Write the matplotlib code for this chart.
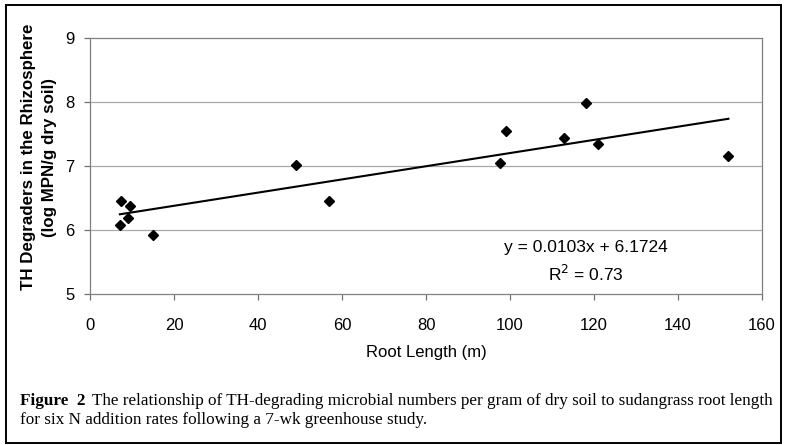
#!/usr/bin/env python3
"""TH degraders in the rhizosphere vs sudangrass root length (Figure 2)."""
import matplotlib
matplotlib.use("Agg")
import matplotlib.pyplot as plt
from matplotlib.patches import Rectangle

# data
root_length = [7.1, 7.4, 9.1, 9.4, 15.0, 49.0, 56.9, 97.6, 99.0, 112.9, 118.0, 121.0, 152.0]
th_degraders = [6.08, 6.46, 6.19, 6.37, 5.92, 7.01, 6.46, 7.05, 7.55, 7.44, 7.99, 7.35, 7.15]

# trend line as printed on the chart
slope, intercept, r2 = 0.0103, 6.1724, 0.73

x_ticks = [0, 20, 40, 60, 80, 100, 120, 140, 160]
y_ticks = [5, 6, 7, 8, 9]

plt.rcParams["font.family"] = ["Liberation Sans", "DejaVu Sans"]

fig = plt.figure(figsize=(7.85, 4.45), dpi=100)
ax = fig.add_axes([0.1147, 0.3393, 0.856, 0.5753])

for y in y_ticks[1:-1]:
    ax.axhline(y, color="#a8a8a8", lw=0.9, zorder=1)

ax.plot(root_length, th_degraders, ls="none", marker="D", ms=5.6,
        color="black", zorder=3)
xs = [min(root_length), max(root_length)]
ax.plot(xs, [slope * v + intercept for v in xs], color="black", lw=1.5, zorder=2)

ax.set_xlim(0, 160)
ax.set_ylim(5, 9)
ax.set_xticks(x_ticks)
ax.set_yticks(y_ticks)
ax.tick_params(axis="x", direction="out", length=4, width=0.9, color="#707070",
               labelsize=12, pad=13)
ax.tick_params(axis="y", direction="out", length=4, width=0.9, color="#707070",
               labelsize=12, pad=7)
for s in ax.spines.values():
    s.set_color("#808080")
    s.set_linewidth(0.9)

ax.set_xlabel("Root Length (m)", fontsize=12, labelpad=9)
ax.set_ylabel("TH Degraders in the Rhizosphere\n(log MPN/g dry soil)",
              fontsize=12.2, fontweight="bold", linespacing=1.5)
ax.yaxis.set_label_coords(-0.049, 0.535)

ax.text(118, 5.73, f"y = {slope}x + {intercept}", fontsize=12.5, ha="center", va="center")
ax.text(118, 5.31, f"R$^2$ = {r2}", fontsize=12.5, ha="center", va="center")

# outer frame round the whole figure panel
fig.patches.append(Rectangle((0.0075, 0.0045), 0.988, 0.984, transform=fig.transFigure,
                             fill=False, edgecolor="black", lw=1.4))

# caption: bold "Figure 2" followed by normal text
serif = ["Liberation Serif", "DejaVu Serif"]
cap_y1, cap_y2 = 1 - 401 / 445, 1 - 420 / 445
t0 = fig.text(20 / 785, cap_y1, "Figure  2", family=serif, fontsize=12.3,
              fontweight="bold", va="center")
fig.canvas.draw()
bb = t0.get_window_extent()
fig.text((bb.x1 + 6) / 785, cap_y1,
         "The relationship of TH-degrading microbial numbers per gram of dry soil "
         "to sudangrass root length", family=serif, fontsize=12.3, va="center")
fig.text(20 / 785, cap_y2,
         "for six N addition rates following a 7-wk greenhouse study.",
         family=serif, fontsize=12.3, va="center")

fig.savefig("out.png", dpi=100)
